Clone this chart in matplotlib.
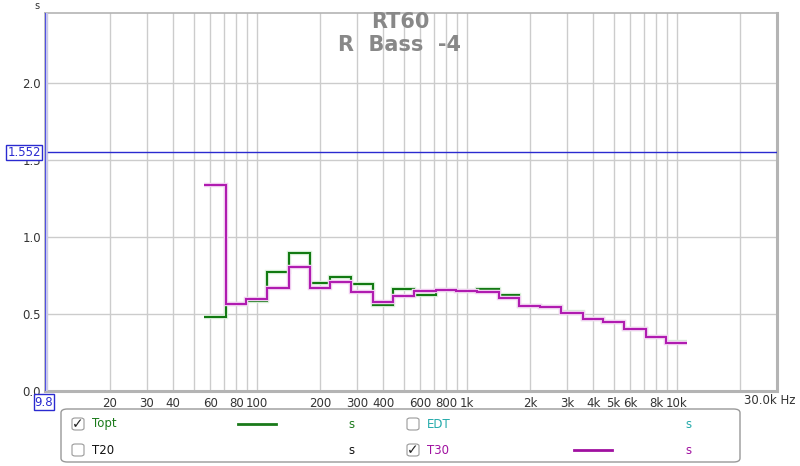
import matplotlib
matplotlib.use("Agg")
import matplotlib.pyplot as plt
from matplotlib.patches import FancyBboxPatch
import numpy as np

# ---- data ----
band_centers = [63, 80, 100, 125, 160, 200, 250, 315, 400, 500, 630, 800,
                1000, 1250, 1600, 2000, 2500, 3150, 4000, 5000, 6300, 8000, 10000]
topt = [0.48, 0.562, 0.586, 0.775, 0.894, 0.699, 0.738, 0.693, 0.556, 0.660, 0.621, 0.658,
        0.647, 0.662, 0.625, 0.552, 0.543, 0.515, 0.470, 0.450, 0.405, 0.351, 0.318]
t30 = [1.34, 0.565, 0.597, 0.669, 0.807, 0.669, 0.708, 0.641, 0.580, 0.617, 0.651, 0.658,
       0.647, 0.645, 0.602, 0.552, 0.543, 0.504, 0.470, 0.450, 0.405, 0.351, 0.310]
xticks = [20, 30, 40, 60, 80, 100, 200, 300, 400, 600, 800, 1000, 2000, 3000, 4000,
          5000, 6000, 8000, 10000]
xticklabels = ["20", "30", "40", "60", "80", "100", "200", "300", "400", "600", "800",
               "1k", "2k", "3k", "4k", "5k", "6k", "8k", "10k"]
yticks = [0.0, 0.5, 1.0, 1.5, 2.0]
cursor_y = 1.552
cursor_x = 9.8
title1 = "RT60"
title2 = "R  Bass  -4"

W, H = 800, 466
fig = plt.figure(figsize=(8, 4.66), dpi=100)
fig.patch.set_facecolor("white")

def fx(px):
    return px / W
def fy(py):
    return 1 - py / H

L, R, T, B = 45, 777, 13, 391
ax = fig.add_axes([fx(L), fy(B), fx(R) - fx(L), fy(T) - fy(B)])
ax.set_xscale("log")
ax.set_xlim(9.8, 30000)
ax.set_ylim(0, 2.455)

# grid
for dec in [10, 100, 1000, 10000]:
    for m in range(1, 10):
        f = dec * m
        if 9.8 < f < 30000:
            ax.axvline(f, color="#cccccc", lw=1, zorder=1)
for yv in yticks[1:]:
    ax.axhline(yv, color="#cccccc", lw=1, zorder=1)

# step data
c = np.array(band_centers, dtype=float)
edges = np.concatenate([c * 2 ** (-1 / 6), [c[-1] * 2 ** (1 / 6)]])
ax.stairs(topt, edges, baseline=None, color="#dcf2dc", lw=3.2, zorder=3)
ax.stairs(topt, edges, baseline=None, color="#127a12", lw=1.5, zorder=4)
ax.stairs(t30, edges, baseline=None, color="#f2d2f2", lw=3.2, zorder=5)
ax.stairs(t30, edges, baseline=None, color="#b01cb0", lw=1.5, zorder=6)

# cursors
ax.axhline(cursor_y, color="#2a2ad0", lw=1, zorder=7)
ax.axvline(cursor_x, color="#c8c8f0", lw=4, zorder=7)
ax.axvline(cursor_x, color="#3a3ae0", lw=1.2, zorder=8)

# ticks
ax.set_xticks(xticks)
ax.set_xticklabels(xticklabels)
ax.xaxis.set_minor_locator(matplotlib.ticker.NullLocator())
ax.set_yticks(yticks)
ax.set_yticklabels(["%.1f" % v for v in yticks])
ax.tick_params(axis="both", length=0, labelsize=8.5, labelcolor="#333333", pad=3)
ax.tick_params(axis="x", pad=4)

for sp in ax.spines.values():
    sp.set_color("#b4b4b4")
    sp.set_linewidth(1.2)
ax.spines["right"].set_linewidth(2.2)
ax.spines["bottom"].set_linewidth(2.2)

# unit labels
fig.text(fx(37), fy(6), "s", fontsize=7, color="#333333", ha="center", va="center")
fig.text(fx(795), fy(400), "30.0k Hz", fontsize=8.5, color="#333333", ha="right", va="center")

# cursor value boxes
fig.text(fx(24), fy(152.5), "1.552", fontsize=8.5, color="#2a2ad0", ha="center", va="center",
         bbox=dict(boxstyle="square,pad=0.12", fc="white", ec="#2a2ad0", lw=1))
fig.text(fx(44), fy(402), "9.8", fontsize=8.5, color="#2a2ad0", ha="center", va="center",
         bbox=dict(boxstyle="square,pad=0.1", fc="white", ec="#2a2ad0", lw=1))

# titles
fig.text(fx(400), fy(22), title1, fontsize=15, color="#888888", ha="center", va="center",
         fontweight="bold")
fig.text(fx(400), fy(45), title2, fontsize=15, color="#888888", ha="center", va="center",
         fontweight="bold")

# legend box
leg = FancyBboxPatch((fx(61), fy(462)), fx(740) - fx(61), fy(409) - fy(462),
                     boxstyle="round,pad=0,rounding_size=0.008", transform=fig.transFigure,
                     fc="white", ec="#999999", lw=1, zorder=1)
fig.patches.append(leg)

def checkbox(px, py, checked):
    box = FancyBboxPatch((fx(px), fy(py + 6)), fx(12), 12 / H,
                         boxstyle="round,pad=0,rounding_size=0.004", transform=fig.transFigure,
                         fc="white", ec="#999999", lw=0.8, zorder=2)
    fig.patches.append(box)
    if checked:
        fig.text(fx(px + 6), fy(py), "\u2713", fontsize=10, color="#222222",
                 ha="center", va="center", zorder=3)

rows = [
    (424, 78, True, "Topt", "#1a7a1a", (238, 276), 351),
    (450, 78, False, "T20", "#111111", None, 351),
    (424, 413, False, "EDT", "#22aaaa", None, 688),
    (450, 413, True, "T30", "#a010a0", (574, 612), 688),
]
for py, px, chk, name, col, seg, sx in rows:
    checkbox(px - 6, py, chk)
    fig.text(fx(px + 14), fy(py), name, fontsize=8.5, color=col, ha="left", va="center")
    if seg is not None:
        fig.lines.append(plt.Line2D([fx(seg[0]), fx(seg[1])], [fy(py), fy(py)],
                                    transform=fig.transFigure, color=col, lw=2))
    fig.text(fx(sx), fy(py), "s", fontsize=8.5, color=col, ha="center", va="center")

fig.savefig("out.png", dpi=100)
